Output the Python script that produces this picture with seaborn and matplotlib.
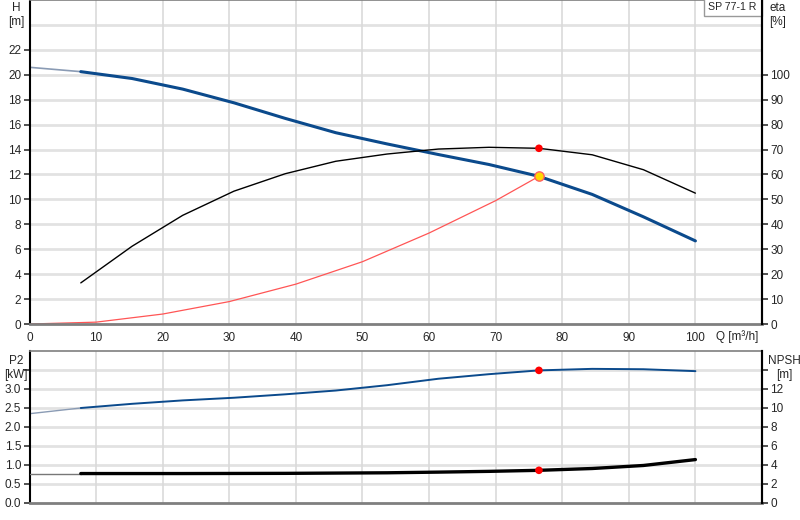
import matplotlib
matplotlib.use("Agg")
import matplotlib.pyplot as plt
import seaborn as sns
import pandas as pd

# kurvendaten
q_h = [0, 7.7, 15.4, 23, 30.7, 38.4, 46, 53.7, 61.4, 69, 76.5, 84.5, 92.2, 100]
h = [20.6, 20.25, 19.7, 18.85, 17.75, 16.5, 15.35, 14.45, 13.6, 12.8, 11.85, 10.4, 8.6, 6.67]

q_eta = [7.7, 15.4, 23, 30.7, 38.4, 46, 53.7, 61.4, 69, 76.5, 84.5, 92.2, 100]
eta = [16.5, 31.2, 43.6, 53.3, 60.3, 65.3, 68.2, 70.2, 70.9, 70.5, 67.9, 61.9, 52.5]

q_sys = [0, 10, 20, 30, 40, 50, 60, 70, 76.5]
h_sys = [0, 0.15, 0.8, 1.8, 3.2, 5.0, 7.3, 9.9, 11.85]

q_p2 = [0, 7.7, 15.4, 23, 30.7, 38.4, 46, 53.7, 61.4, 69, 76.5, 84.5, 92.2, 100]
p2 = [2.35, 2.5, 2.61, 2.7, 2.77, 2.86, 2.96, 3.1, 3.27, 3.39, 3.49, 3.53, 3.52, 3.47]

q_npsh = [0, 7.7, 23, 38.4, 53.7, 61.4, 69, 76.5, 84.5, 92.2, 100]
npsh = [3.1, 3.1, 3.1, 3.12, 3.18, 3.25, 3.33, 3.44, 3.63, 3.95, 4.57]

# betriebspunkt
q_op = 76.5
h_op = 11.85
eta_op = 70.5
p2_op = 3.49
npsh_op = 3.44

x_ticks = [0, 10, 20, 30, 40, 50, 60, 70, 80, 90, 100]
h_ticks = [0, 2, 4, 6, 8, 10, 12, 14, 16, 18, 20, 22]
eta_ticks = [0, 10, 20, 30, 40, 50, 60, 70, 80, 90, 100]
p2_ticks = [0.0, 0.5, 1.0, 1.5, 2.0, 2.5, 3.0, 3.5]
npsh_ticks = [0, 2, 4, 6, 8, 10, 12, 14]

BLUE = "#0b4a8c"
GRID = "#e2e2e2"
VGRID = "#dadada"
EXT = 7.7  # ab hier durchgezogene kurve

sns.set_style("white")
plt.rcParams["font.family"] = ["Liberation Sans", "DejaVu Sans"]
plt.rcParams["font.size"] = 8

fig = plt.figure(figsize=(8, 5.2), dpi=100)
ax = fig.add_axes([0.0369, 0.3769, 0.9156, 0.6231])
ax2 = fig.add_axes([0.0369, 0.0327, 0.9156, 0.2923])


def style_axes(a, ylim, hgrid):
    a.set_xlim(0, 110)
    a.set_ylim(*ylim)
    for y in hgrid:
        a.axhline(y, color=GRID, lw=2, zorder=0)
    for x in x_ticks[1:] + [110]:
        a.axvline(x, color=VGRID, lw=1.2, zorder=0)
    a.spines["left"].set_color("black")
    a.spines["left"].set_linewidth(1.5)
    a.spines["right"].set_color("black")
    a.spines["right"].set_linewidth(1.5)
    a.spines["bottom"].set_color("#7f7f7f")
    a.spines["bottom"].set_linewidth(2)
    a.spines["top"].set_color("#7f7f7f")
    a.spines["top"].set_linewidth(1.2)
    a.tick_params(axis="both", length=4, width=1.2, color="#333333", pad=2, labelsize=8.5)


# --- oberes diagramm: H, eta ---
style_axes(ax, (0, 26), [2 * i for i in range(1, 13)])
ax.set_xticks(x_ticks)
ax.set_yticks(h_ticks)

df_h = pd.DataFrame({"Q": q_h, "H": h})
ext = df_h[df_h["Q"] <= EXT]
sns.lineplot(data=ext, x="Q", y="H", ax=ax, color="#8a9bb4", lw=1.2, estimator=None, sort=False)
sns.lineplot(data=df_h[df_h["Q"] >= EXT], x="Q", y="H", ax=ax, color=BLUE, lw=2.2,
             estimator=None, sort=False, zorder=3)

sns.lineplot(x=q_sys, y=h_sys, ax=ax, color="#ff5555", lw=0.9, estimator=None, sort=False)

axe = ax.twinx()
axe.set_ylim(0, 130)
axe.set_yticks(eta_ticks)
for s in ["left", "top", "bottom"]:
    axe.spines[s].set_visible(False)
axe.spines["right"].set_color("black")
axe.spines["right"].set_linewidth(1.5)
axe.tick_params(axis="y", length=4, width=1.2, color="#333333", pad=2, labelsize=8.5)
sns.lineplot(x=q_eta, y=eta, ax=axe, color="black", lw=1.0, estimator=None, sort=False)
sns.scatterplot(x=[q_op], y=[eta_op], ax=axe, color="red", s=30, edgecolor="none", zorder=5)
sns.scatterplot(x=[q_op], y=[h_op], ax=ax, color="#ffd800", s=45, edgecolor="#ff6060",
                linewidth=1, zorder=6)
axe.set_ylabel("")
ax.set_xlabel("")
ax.set_ylabel("")

ax.text(0.993, 0.995, "SP 77-1 R", transform=ax.transAxes, ha="right", va="top", fontsize=7.6,
        bbox=dict(boxstyle="square,pad=0.45", fc="white", ec="#999999", lw=1), zorder=10)
ax.text(0.995, -0.018, "Q [m\u00b3/h]", transform=ax.transAxes, ha="right", va="top", fontsize=8.5)

fig.text(0.02, 0.997, "H\n[m]", ha="center", va="top", fontsize=8.5, linespacing=1.25)
fig.text(0.972, 0.997, "eta\n[%]", ha="center", va="top", fontsize=8.5, linespacing=1.25)

# --- unteres diagramm: P2, NPSH ---
style_axes(ax2, (0, 4.0), [0.5 * i for i in range(1, 8)])
ax2.set_xticks(x_ticks)
ax2.set_xticklabels([])
ax2.tick_params(axis="x", length=0)
ax2.set_yticks(p2_ticks)
ax2.set_yticklabels([f"{v:.1f}" for v in p2_ticks[:-1]] + [""])

df_p = pd.DataFrame({"Q": q_p2, "P2": p2})
sns.lineplot(data=df_p[df_p["Q"] <= EXT], x="Q", y="P2", ax=ax2, color="#8a9bb4", lw=1.0,
             estimator=None, sort=False)
sns.lineplot(data=df_p[df_p["Q"] >= EXT], x="Q", y="P2", ax=ax2, color=BLUE, lw=1.4,
             estimator=None, sort=False)
sns.scatterplot(x=[q_op], y=[p2_op], ax=ax2, color="red", s=30, edgecolor="none", zorder=5)
ax2.set_xlabel("")
ax2.set_ylabel("")

axn = ax2.twinx()
axn.set_ylim(0, 16)
axn.set_yticks(npsh_ticks)
axn.set_yticklabels([str(v) for v in npsh_ticks[:-1]] + [""])
for s in ["left", "top", "bottom"]:
    axn.spines[s].set_visible(False)
axn.spines["right"].set_color("black")
axn.spines["right"].set_linewidth(1.5)
axn.tick_params(axis="y", length=4, width=1.2, color="#333333", pad=2, labelsize=8.5)

df_n = pd.DataFrame({"Q": q_npsh, "NPSH": npsh})
sns.lineplot(data=df_n[df_n["Q"] <= EXT], x="Q", y="NPSH", ax=axn, color="#777777", lw=1.0,
             estimator=None, sort=False)
sns.lineplot(data=df_n[df_n["Q"] >= EXT], x="Q", y="NPSH", ax=axn, color="black", lw=2.4,
             estimator=None, sort=False)
sns.scatterplot(x=[q_op], y=[npsh_op], ax=axn, color="red", s=30, edgecolor="none", zorder=5)
axn.set_xlabel("")
axn.set_ylabel("")

fig.text(0.02, 0.318, "P2\n[kW]", ha="center", va="top", fontsize=8.5, linespacing=1.25)
fig.text(0.98, 0.318, "NPSH\n[m]", ha="center", va="top", fontsize=8.5, linespacing=1.25)

fig.savefig("out.png", dpi=100)
